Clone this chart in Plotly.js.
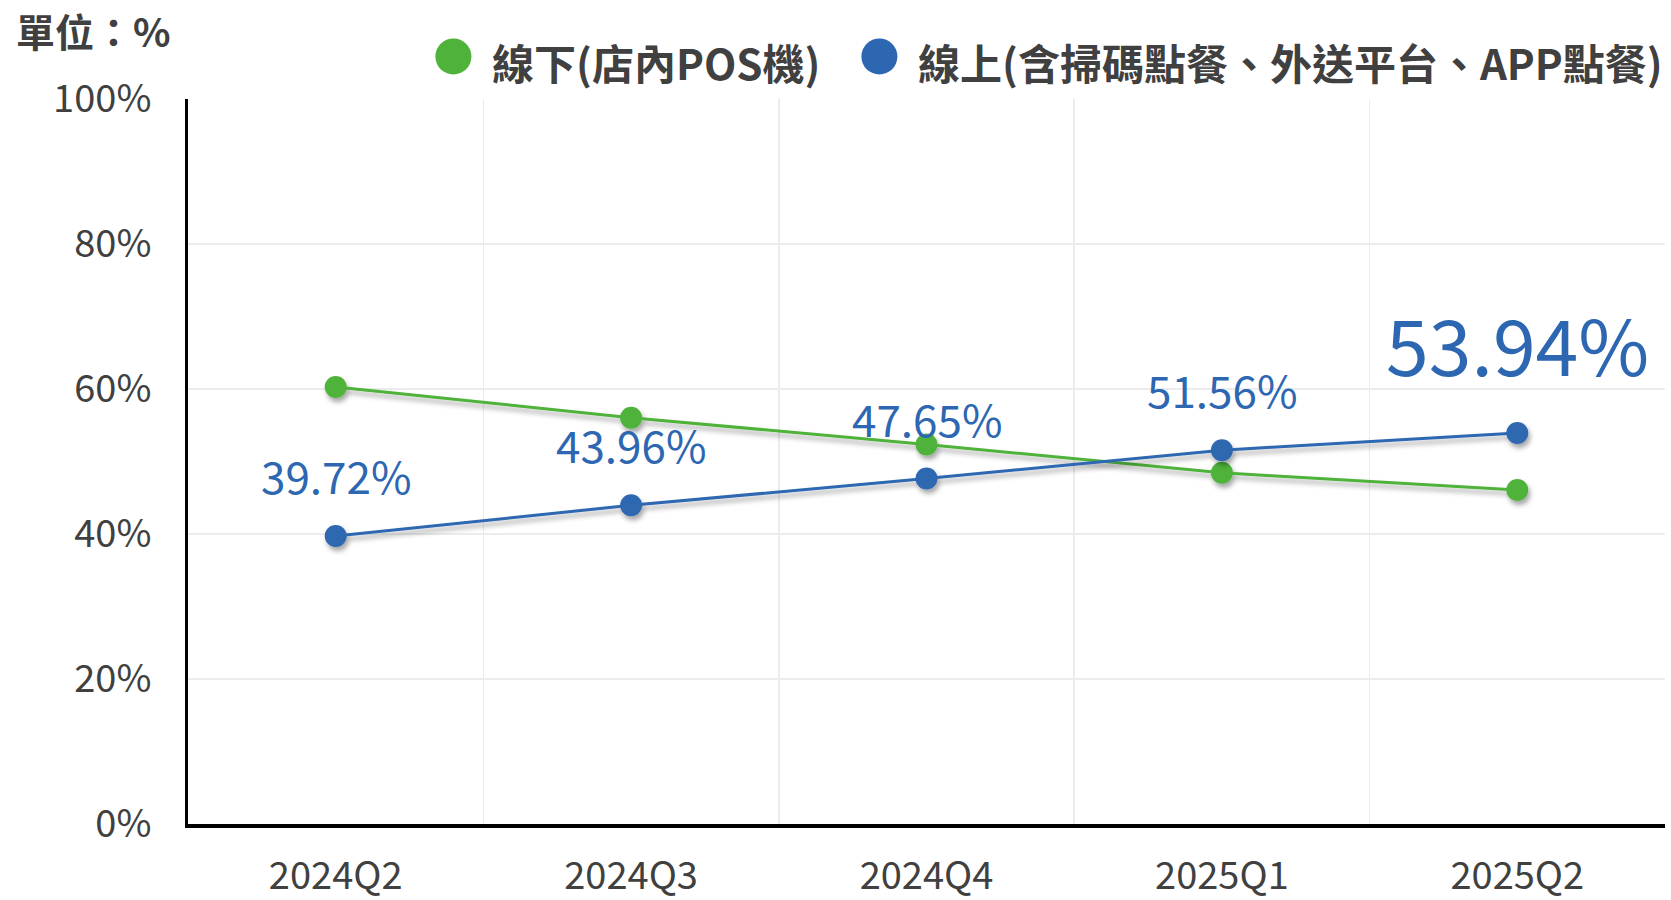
<!DOCTYPE html>
<html>
<head>
<meta charset="utf-8">
<script src="https://cdn.plot.ly/plotly-3.0.1.min.js"></script>
<style>
  html, body { margin: 0; padding: 0; background: #fff; }
  #chart { width: 1671px; height: 900px; }
  #chart .scatterlayer .trace { filter: url(#ds); }
</style>
</head>
<body>
<svg width="0" height="0" style="position:absolute">
  <defs>
    <filter id="ds" x="-20%" y="-20%" width="140%" height="160%">
      <feDropShadow dx="2" dy="4" stdDeviation="2.5" flood-color="#000" flood-opacity="0.35"/>
    </filter>
  </defs>
</svg>
<div id="chart"></div>
<script>
// ---- data ----
const categories = ["2024Q2", "2024Q3", "2024Q4", "2025Q1", "2025Q2"];
const offlineValues = [60.28, 56.04, 52.35, 48.44, 46.06];
const onlineValues = [39.72, 43.96, 47.65, 51.56, 53.94];
const seriesNames = ["線下(店內POS機)", "線上(含掃碼點餐、外送平台、APP點餐)"];
const unitLabel = "單位：%";
const yTickValues = [0, 20, 40, 60, 80, 100];
const yTickLabels = ["0%", "20%", "40%", "60%", "80%", "100%"];

// ---- styles ----
const GREEN = "#4fb23b";
const BLUE = "#2e67b1";
const TEXT = "#404040";
const FONT = "'Noto Sans CJK TC', 'Noto Sans', sans-serif";

const traces = [
  {
    x: categories, y: offlineValues, name: seriesNames[0], type: "scatter", mode: "lines+markers",
    line: { color: GREEN, width: 3 }, marker: { color: GREEN, size: 22 }, hoverinfo: "x+y"
  },
  {
    x: categories, y: onlineValues, name: seriesNames[1], type: "scatter", mode: "lines+markers",
    line: { color: BLUE, width: 3 }, marker: { color: BLUE, size: 22 }, hoverinfo: "x+y"
  }
];

const plotL = 187.6, plotR = 1664.6, plotT = 99, plotB = 823.8;
const pw = plotR - plotL, ph = plotB - plotT;
const px = v => (v - plotL) / pw;
const py = v => (plotB - v) / ph;

const annotations = [];
onlineValues.forEach((v, i) => {
  const last = i === onlineValues.length - 1;
  annotations.push({
    x: categories[i], y: v, xref: "x", yref: "y",
    text: v.toFixed(2) + "%", showarrow: false,
    xanchor: "center", yanchor: "middle",
    yshift: last ? 90 : 61,
    font: { family: FONT, size: last ? 77 : 44, color: BLUE }
  });
});
// custom legend text
annotations.push({
  xref: "paper", yref: "paper", x: px(490), y: py(62), xanchor: "left", yanchor: "middle",
  text: "<b>" + seriesNames[0] + "</b>", showarrow: false,
  font: { family: FONT, size: 42, color: TEXT }
});
annotations.push({
  xref: "paper", yref: "paper", x: px(916), y: py(62), xanchor: "left", yanchor: "middle",
  text: "<b>" + seriesNames[1] + "</b>", showarrow: false,
  font: { family: FONT, size: 42, color: TEXT }
});

const shapes = [
  { type: "circle", xref: "paper", yref: "paper", xsizemode: "pixel", ysizemode: "pixel",
    xanchor: px(453), yanchor: py(56.5), x0: -18, x1: 18, y0: -18, y1: 18,
    fillcolor: GREEN, line: { width: 0 } },
  { type: "circle", xref: "paper", yref: "paper", xsizemode: "pixel", ysizemode: "pixel",
    xanchor: px(879), yanchor: py(56.5), x0: -18, x1: 18, y0: -18, y1: 18,
    fillcolor: BLUE, line: { width: 0 } }
];

const layout = {
  width: 1671, height: 900,
  margin: { l: plotL, r: 1671 - plotR, t: plotT, b: 900 - plotB, pad: 0 },
  paper_bgcolor: "#fff", plot_bgcolor: "#fff",
  showlegend: false,
  font: { family: FONT, color: TEXT },
  title: {
    text: "<b>" + unitLabel + "</b>", xref: "container", yref: "container",
    x: 16 / 1671, xanchor: "left", y: 1 - 33 / 900, yanchor: "middle",
    font: { family: FONT, size: 39, color: TEXT }
  },
  xaxis: {
    type: "category", range: [-0.5, 4.5], tickson: "boundaries",
    showgrid: true, gridcolor: "#ececec", gridwidth: 1.5,
    showline: true, linecolor: "#000", linewidth: 4,
    ticks: "", ticklabelstandoff: 15,
    tickfont: { family: FONT, size: 38, color: TEXT },
    fixedrange: true
  },
  yaxis: {
    range: [0, 100], tickmode: "array", tickvals: yTickValues, ticktext: yTickLabels,
    showgrid: true, gridcolor: "#ececec", gridwidth: 1.5,
    zeroline: false,
    showline: true, linecolor: "#000", linewidth: 3,
    ticks: "", ticklabelstandoff: 26,
    tickfont: { family: FONT, size: 38, color: TEXT },
    fixedrange: true
  },
  annotations: annotations,
  shapes: shapes
};

Plotly.newPlot("chart", traces, layout, { displayModeBar: false, staticPlot: true });
</script>
</body>
</html>
